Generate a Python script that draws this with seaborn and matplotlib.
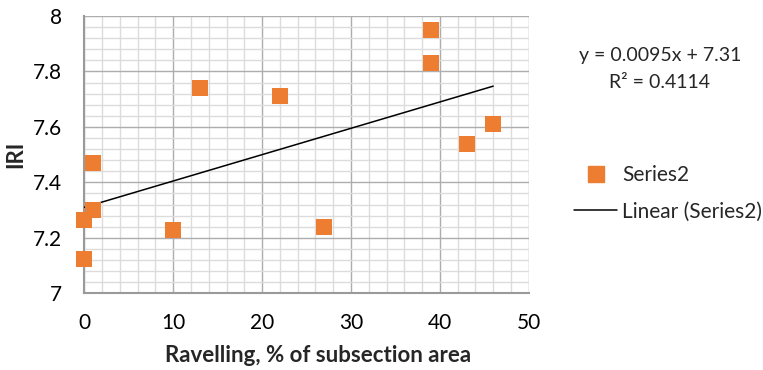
import numpy as np
import pandas as pd
import matplotlib
matplotlib.use("Agg")
import matplotlib.pyplot as plt
from matplotlib.ticker import MultipleLocator
from matplotlib.lines import Line2D
import seaborn as sns

# Ravelling (% of subsection area) vs. IRI
ravelling = [0, 0, 1, 1, 10, 13, 22, 27, 39, 39, 43, 46]
iri = [7.125, 7.265, 7.30, 7.47, 7.23, 7.74, 7.71, 7.24, 7.95, 7.83, 7.54, 7.61]
series_name = "Series2"
trend_name = "Linear (Series2)"
x_ticks = [0, 10, 20, 30, 40, 50]
y_ticks = [7, 7.2, 7.4, 7.6, 7.8, 8]

# linear trend line coefficients
trend_slope = 0.0095
trend_intercept = 7.31
trend_r2 = 0.4114

df = pd.DataFrame({"x": ravelling, "y": iri})
trend_x = [min(ravelling), max(ravelling)]
trend = pd.DataFrame({"x": trend_x,
                      "y": [trend_slope * v + trend_intercept for v in trend_x]})

sns.set_style("white")
plt.rcParams["font.family"] = ["Lato", "DejaVu Sans"]

orange = "#ED7D31"
fig = plt.figure(figsize=(7.63, 3.70), dpi=100)
ax = fig.add_axes([0.1105, 0.2073, 0.5825, 0.7495])

sns.lineplot(data=trend, x="x", y="y", ax=ax, color="black", lw=1.1, zorder=3)
sns.scatterplot(data=df, x="x", y="y", ax=ax, marker="s", s=140, color=orange,
                edgecolor=orange, linewidth=0, zorder=4, clip_on=False)

ax.set_xlim(0, 50)
ax.set_ylim(7, 8)
ax.set_xticks(x_ticks)
ax.set_yticks(y_ticks)
ax.set_xticklabels([f"{t:g}" for t in x_ticks])
ax.set_yticklabels([f"{t:g}" for t in y_ticks])
ax.xaxis.set_minor_locator(MultipleLocator(2))
ax.yaxis.set_minor_locator(MultipleLocator(0.04))

ax.grid(which="major", color="#adadad", lw=1.0, zorder=0)
ax.grid(which="minor", color="#dcdcdc", lw=1.0, zorder=0)
ax.set_axisbelow(True)

for side in ("top", "right"):
    ax.spines[side].set_visible(False)
for side in ("left", "bottom"):
    ax.spines[side].set_color("#9a9a9a")
    ax.spines[side].set_linewidth(1.5)
    ax.spines[side].set_zorder(2)

ax.tick_params(which="major", direction="out", length=5, width=1.2, color="#9a9a9a",
               labelsize=15, labelcolor="black")
ax.tick_params(axis="y", which="major", pad=11)
ax.tick_params(axis="x", which="major", pad=9)
ax.tick_params(which="minor", length=0)

ax.set_xlabel("Ravelling, % of subsection area", fontsize=16, fontweight="bold", labelpad=9)
ax.xaxis.label.set_x(0.525)
ax.set_ylabel("IRI", fontsize=16, fontweight="bold", labelpad=4.5)

fig.text(0.865, 0.851, f"y = {trend_slope}x + {trend_intercept}", ha="center", va="center",
         fontsize=14)
fig.text(0.865, 0.776, f"R² = {trend_r2}", ha="center", va="center", fontsize=14)

handles = [
    Line2D([], [], marker="s", color=orange, ls="none", markersize=11),
    Line2D([], [], color="black", lw=1.1),
]
fig.legend(handles, [series_name, trend_name], loc="center left",
           bbox_to_anchor=(0.7523, 0.478), frameon=False, fontsize=15,
           borderpad=0, borderaxespad=0,
           handlelength=2.07, handletextpad=0.25, labelspacing=0.8)

fig.savefig("out.png", dpi=100)
